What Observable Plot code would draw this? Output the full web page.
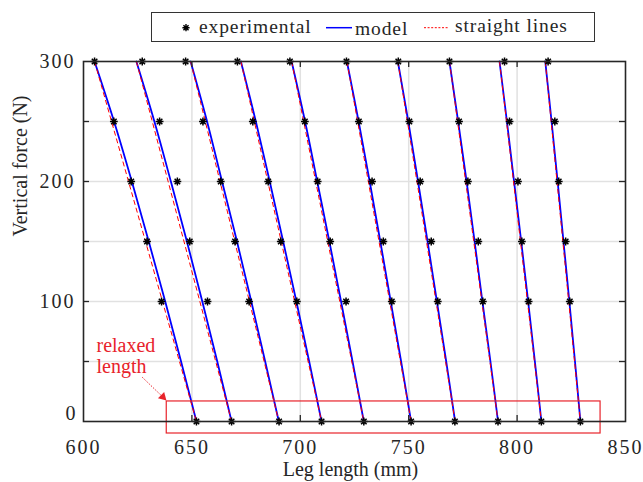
<!DOCTYPE html>
<html>
<head>
<meta charset="utf-8">
<script src="https://cdn.jsdelivr.net/npm/d3@7"></script>
<script src="https://cdn.jsdelivr.net/npm/@observablehq/plot@0.6"></script>
<style>
  body { margin: 0; background: #fff; }
  #chart { position: relative; width: 643px; height: 482px; overflow: hidden; }
  #chart svg text { font-family: "Liberation Serif", serif !important; }
  #legend { position: absolute; left: 151px; top: 12px; }
</style>
</head>
<body>
<div id="chart"></div>
<script>
// Vertical force levels (N) of the model curves and of the measurements
const forceModel = [300, 250, 200, 150, 100, 50, 0];
const forceExp = [300, 250, 200, 150, 100, 0];

// Model leg length (mm) per spring setting, one list per curve, ordered as forceModel
const model = [
  [605.1, 614.1, 622.3, 630.1, 637.7, 645.0, 652.1],
  [624.4, 632.7, 640.3, 647.7, 654.8, 661.7, 668.3],
  [649.4, 657.0, 663.9, 670.8, 677.4, 683.8, 690.1],
  [672.6, 679.5, 685.9, 692.1, 698.2, 704.1, 709.8],
  [696.0, 702.2, 707.8, 713.4, 718.8, 724.1, 729.3],
  [721.5, 726.9, 732.0, 736.9, 741.7, 746.5, 751.1],
  [745.0, 749.8, 754.3, 758.7, 763.0, 767.3, 771.4],
  [768.8, 772.8, 776.7, 780.4, 784.0, 787.7, 791.2],
  [791.9, 795.3, 798.6, 801.9, 805.1, 808.2, 811.2],
  [813.0, 815.9, 818.7, 821.4, 824.1, 826.7, 829.2]
];

// Measured leg length (mm), ordered as forceExp
const experimental = [
  [605.1, 614.0, 622.0, 629.3, 636.0, 652.1],
  [627.1, 635.1, 643.3, 649.0, 657.2, 668.3],
  [647.1, 655.1, 663.3, 669.9, 676.4, 690.2],
  [671.0, 678.1, 685.2, 691.0, 698.4, 709.8],
  [695.2, 702.1, 708.0, 713.8, 721.1, 729.3],
  [721.3, 727.0, 733.1, 738.3, 742.2, 751.1],
  [745.2, 750.3, 755.3, 760.4, 763.4, 771.3],
  [768.8, 773.2, 777.3, 782.1, 784.2, 791.2],
  [794.2, 796.5, 800.4, 802.2, 805.3, 811.2],
  [814.3, 817.4, 819.2, 822.4, 824.3, 829.2]
];

// Straight lines joining the loaded (300 N) and relaxed (0 N) lengths
const straightTop = [605.1, 624.4, 649.4, 672.6, 696.0, 721.5, 745.0, 768.8, 791.9, 813.0];
const straightBottom = [652.1, 668.3, 690.1, 709.8, 729.3, 751.1, 771.4, 791.2, 811.2, 829.2];
const straightForce = [300, 0];

// Axes
const xTicks = [600, 650, 700, 750, 800, 850];
const xInner = [650, 700, 750, 800];
const yInner = [50, 100, 150, 200, 250];
const yLabels = [100, 200, 300];
const yZeroLabel = [0];
const xTitle = "Leg length (mm)";
const yTitle = "Vertical force (N)";

// "relaxed length" annotation
const noteLines = ["relaxed", "length"];
const noteX = [606.0, 606.0];
const noteY = [63.3, 45.8];
const boxX = [638.4, 838.5];
const boxY = [-10, 16.7];
const arrowFrom = [627.1, 36.9];
const arrowTo = [636.6, 20.4];

const modelRows = model.flatMap((s, i) => s.map((x, j) => ({series: i, x, force: forceModel[j]})));
const expRows = experimental.flatMap((s, i) => s.map((x, j) => ({series: i, x, force: forceExp[j]})));
const straightRows = straightTop.map((t, i) => ({x1: t, y1: straightForce[0], x2: straightBottom[i], y2: straightForce[1]}));
const noteRows = noteLines.map((t, i) => ({text: t, x: noteX[i], y: noteY[i]}));

// MATLAB-style "*" marker: plus and cross combined
const asterisk = {
  draw(ctx, size) {
    const r = Math.sqrt(size / Math.PI);
    const d = r * Math.SQRT1_2;
    ctx.moveTo(0, -r); ctx.lineTo(0, r);
    ctx.moveTo(-r, 0); ctx.lineTo(r, 0);
    ctx.moveTo(-d, -d); ctx.lineTo(d, d);
    ctx.moveTo(-d, d); ctx.lineTo(d, -d);
  }
};

const RED = "#e8232b";
const FRAME = "#262626";
const GRID = "#e1e1e1";
const SERIF = "Liberation Serif";

const chart = Plot.plot({
  width: 643,
  height: 482,
  marginLeft: 83,
  marginRight: 18,
  marginTop: 61,
  marginBottom: 61,
  x: {domain: [600, 850]},
  y: {domain: [0, 300]},
  marks: [
    Plot.gridX(xInner, {stroke: GRID, strokeOpacity: 1, strokeWidth: 1.5}),
    Plot.gridY(yInner, {stroke: GRID, strokeOpacity: 1, strokeWidth: 1.5}),
    Plot.line(modelRows, {x: "x", y: "force", z: "series", stroke: "#0000ff", strokeWidth: 1.8, curve: "catmull-rom"}),
    Plot.link(straightRows, {x1: "x1", y1: "y1", x2: "x2", y2: "y2", stroke: "#ff0000", strokeWidth: 1, strokeDasharray: "5,3"}),
    Plot.rect([0], {x1: () => boxX[0], x2: () => boxX[1], y1: () => boxY[0], y2: () => boxY[1], fill: "none", stroke: RED, strokeWidth: 1.2}),
    Plot.link([0], {x1: () => arrowFrom[0], y1: () => arrowFrom[1], x2: () => arrowTo[0], y2: () => arrowTo[1], stroke: RED, strokeWidth: 1, strokeDasharray: "1.5,1.5"}),
    Plot.dot([0], {x: () => arrowTo[0], y: () => arrowTo[1], symbol: "triangle2", r: 4.2, rotate: 135, fill: RED, stroke: "none"}),
    Plot.text(noteRows, {x: "x", y: "y", text: "text", fill: RED, fontSize: 20, fontFamily: SERIF, textAnchor: "start", ariaLabel: "annotation"}),
    Plot.dot(expRows, {x: "x", y: "force", symbol: asterisk, r: 3.9, stroke: "black", strokeWidth: 1.5, fill: "none"}),
    Plot.frame({stroke: FRAME, strokeWidth: 1.6}),
    Plot.tickX(xInner, {stroke: FRAME, strokeWidth: 1.3, insetTop: 354}),
    Plot.tickX(xInner, {stroke: FRAME, strokeWidth: 1.3, insetBottom: 354}),
    Plot.tickY(yInner, {stroke: FRAME, strokeWidth: 1.3, insetRight: 536}),
    Plot.tickY(yInner, {stroke: FRAME, strokeWidth: 1.3, insetLeft: 536}),
    Plot.axisX(xTicks, {tickSize: 0, tickPadding: 18, fontSize: 20, fontFamily: SERIF, label: null, fill: "#262626"}),
    Plot.axisY(yLabels, {tickSize: 0, tickPadding: 8, fontSize: 20, fontFamily: SERIF, label: null, fill: "#262626"}),
    Plot.text(yZeroLabel, {y: d => d, frameAnchor: "left", dx: -8, dy: -8, text: d => String(d), textAnchor: "end", fontSize: 20, fontFamily: SERIF, fill: "#262626", ariaLabel: "zero-label"}),
    Plot.text([xTitle], {frameAnchor: "bottom", text: d => d, dx: -4, dy: 54, fontSize: 20, fontFamily: SERIF, fill: "#262626", ariaLabel: "x-title"}),
    Plot.text([yTitle], {frameAnchor: "left", text: d => d, dx: -63, dy: -5, rotate: -90, fontSize: 20, fontFamily: SERIF, fill: "#262626", ariaLabel: "y-title"})
  ]
});

const root = document.getElementById("chart");
root.appendChild(chart);

// Wide, MATLAB-like letter spacing for the chart's labels
const spacing = {
  "x-axis tick label": "2px",
  "y-axis tick label": "2px",
  "zero-label": "2px",
  "x-title": "1.1px",
  "y-title": "2px",
  "annotation": "1.4px"
};
d3.select(chart).selectAll("text").each(function () {
  const group = this.closest("g[aria-label]");
  const ls = group && spacing[group.getAttribute("aria-label")];
  if (ls) this.style.letterSpacing = ls;
});

// Legend box above the axes
const lg = d3.select(root).append("svg")
  .attr("id", "legend")
  .attr("width", 445).attr("height", 31);
lg.append("rect").attr("x", 0.5).attr("y", 0.5).attr("width", 443).attr("height", 29)
  .attr("fill", "#fff").attr("stroke", "#333").attr("stroke-width", 1);
const sx = 35, sy = 15.7, sr = 3.6, sd = sr * Math.SQRT1_2;
lg.append("path")
  .attr("d", `M${sx},${sy - sr}V${sy + sr}M${sx - sr},${sy}H${sx + sr}M${sx - sd},${sy - sd}L${sx + sd},${sy + sd}M${sx - sd},${sy + sd}L${sx + sd},${sy - sd}`)
  .attr("stroke", "black").attr("stroke-width", 1.4).attr("fill", "none");
lg.append("line").attr("x1", 175).attr("x2", 201).attr("y1", 15.7).attr("y2", 15.7)
  .attr("stroke", "#0000ff").attr("stroke-width", 1.5);
lg.append("line").attr("x1", 273).attr("x2", 298).attr("y1", 15.7).attr("y2", 15.7)
  .attr("stroke", "#ff0000").attr("stroke-width", 1).attr("stroke-dasharray", "2,1.6");
const legendText = [
  {t: "experimental", x: 48, y: 20.5},
  {t: "model", x: 204, y: 22.5},
  {t: "straight lines", x: 304, y: 20}
];
lg.selectAll("text.lt").data(legendText).join("text")
  .attr("class", "lt")
  .attr("x", d => d.x).attr("y", d => d.y)
  .attr("font-size", 19.5).attr("fill", "#262626")
  .style("letter-spacing", "0.9px")
  .text(d => d.t);
</script>
</body>
</html>
